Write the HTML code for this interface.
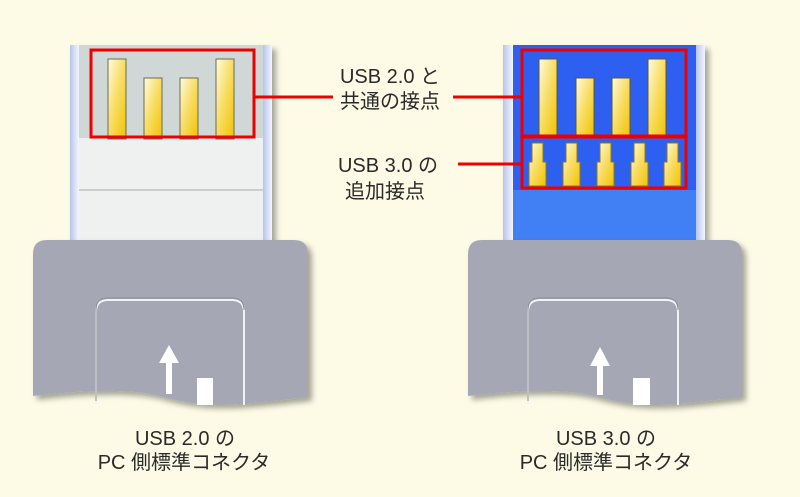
<!DOCTYPE html>
<html><head><meta charset="utf-8"><style>
html,body{margin:0;padding:0;background:#fdfbe6;}
svg{display:block}
text{font-family:"Liberation Sans","Noto Sans CJK JP",sans-serif;font-size:20px;fill:#2a2a2a;}
</style></head><body>
<svg width="800" height="497" viewBox="0 0 800 497" xmlns="http://www.w3.org/2000/svg">
<defs>
<linearGradient id="gold" x1="0" y1="0" x2="1" y2="1">
<stop offset="0" stop-color="#fffbe0"/><stop offset="0.5" stop-color="#f8dc60"/><stop offset="1" stop-color="#f2c200"/>
</linearGradient>
<linearGradient id="side" x1="0" y1="0" x2="1" y2="0">
<stop offset="0" stop-color="#b8c4ec"/><stop offset="1" stop-color="#f4f6ff"/>
</linearGradient>
<filter id="sh" x="-10%" y="-10%" width="130%" height="130%"><feDropShadow dx="4" dy="4" stdDeviation="3" flood-color="#000" flood-opacity="0.35"/></filter>
</defs>
<rect width="800" height="497" fill="#fdfbe6"/>

<g filter="url(#sh)">
<rect x="70" y="45" width="202" height="200" fill="#e4e8f4"/>
</g>
<rect x="70" y="45" width="9" height="200" fill="url(#side)"/>
<rect x="263" y="45" width="9" height="200" fill="url(#side)"/>
<rect x="79" y="45" width="184" height="200" fill="#eff0f0"/>
<rect x="79" y="45" width="184" height="93" fill="#cfd8d6"/>
<line x1="79" y1="190" x2="263" y2="190" stroke="#a8a8a8" stroke-width="1"/>
<g stroke="#6b6b55" stroke-width="1">
<rect x="108" y="59" width="18" height="80" fill="url(#gold)"/>
<rect x="144" y="78" width="18" height="61" fill="url(#gold)"/>
<rect x="180" y="78" width="18" height="61" fill="url(#gold)"/>
<rect x="216" y="59" width="18" height="80" fill="url(#gold)"/>
</g>
<rect x="91" y="50" width="163" height="87" fill="none" stroke="#ee0000" stroke-width="3"/>

<g filter="url(#sh)">
<rect x="503" y="45" width="202" height="200" fill="#3a6fe8"/>
</g>
<rect x="503" y="45" width="10" height="200" fill="url(#side)"/>
<rect x="696" y="45" width="9" height="200" fill="url(#side)"/>
<rect x="513" y="45" width="183" height="145" fill="#2d5ff0"/>
<rect x="513" y="190" width="183" height="55" fill="#4080f4"/>
<g stroke="#5a5a30" stroke-width="1">
<rect x="539" y="59" width="18" height="78" fill="url(#gold)"/>
<rect x="576" y="78" width="18" height="59" fill="url(#gold)"/>
<rect x="612" y="78" width="18" height="59" fill="url(#gold)"/>
<rect x="648" y="59" width="18" height="78" fill="url(#gold)"/>
</g>
<g stroke="#8a7a20" stroke-width="1" fill="url(#gold)">
<path d="M532 143h11v19h3v24h-17v-24h3z"/>
<path d="M566 143h11v19h3v24h-17v-24h3z"/>
<path d="M600 143h11v19h3v24h-17v-24h3z"/>
<path d="M634 143h11v19h3v24h-17v-24h3z"/>
<path d="M667 143h11v19h3v24h-17v-24h3z"/>
</g>
<rect x="522" y="50" width="164" height="86" fill="none" stroke="#ee0000" stroke-width="3"/>
<rect x="522" y="137" width="164" height="51" fill="none" stroke="#ee0000" stroke-width="3"/>

<line x1="255" y1="97" x2="333" y2="97" stroke="#ee0000" stroke-width="3"/>
<line x1="453" y1="97" x2="522" y2="97" stroke="#ee0000" stroke-width="3"/>
<line x1="458" y1="164" x2="522" y2="164" stroke="#ee0000" stroke-width="3"/>

<text x="390" y="83" text-anchor="middle">USB 2.0 と</text>
<text x="390" y="108" text-anchor="middle">共通の接点</text>
<text x="388" y="172" text-anchor="middle">USB 3.0 の</text>
<text x="385" y="198" text-anchor="middle">追加接点</text>

<g transform="translate(33,240)">
<path filter="url(#sh)" d="M14 0H261Q275 0 275 14V157C200 166 170 168 130 157C100 148 50 150 0 156V14Q0 0 14 0Z" fill="#a5a8b4"/>
<path d="M63 163V72Q63 60 75 60H199Q211 60 211 72V165" fill="none" stroke="#f2f2f6" stroke-width="2"/>
<path d="M63 163V72Q63 60 75 60H199Q211 60 211 72" fill="none" stroke="#8a8c98" stroke-width="1" transform="translate(0,-2)"/>
<rect x="133" y="118" width="6" height="36" fill="#fff"/>
<path d="M126 123L136 105L146 123Z" fill="#fff"/>
<rect x="164" y="138" width="16" height="27" fill="#fff"/>
</g>

<g transform="translate(468,240)">
<path filter="url(#sh)" d="M14 0H260Q274 0 274 14V157C200 166 170 168 130 157C100 148 50 150 0 156V14Q0 0 14 0Z" fill="#a5a8b4"/>
<path d="M60 163V72Q60 60 72 60H198Q210 60 210 72V165" fill="none" stroke="#f2f2f6" stroke-width="2"/>
<path d="M60 163V72Q60 60 72 60H198Q210 60 210 72" fill="none" stroke="#8a8c98" stroke-width="1" transform="translate(0,-2)"/>
<rect x="129" y="120" width="6" height="35" fill="#fff"/>
<path d="M122 126L132 107L142 126Z" fill="#fff"/>
<rect x="165" y="138" width="17" height="27" fill="#fff"/>
</g>

<text x="185" y="445" text-anchor="middle">USB 2.0 の</text>
<text x="184" y="469" text-anchor="middle">PC 側標準コネクタ</text>
<text x="606" y="445" text-anchor="middle">USB 3.0 の</text>
<text x="606" y="469" text-anchor="middle">PC 側標準コネクタ</text>
</svg>
</body></html>
